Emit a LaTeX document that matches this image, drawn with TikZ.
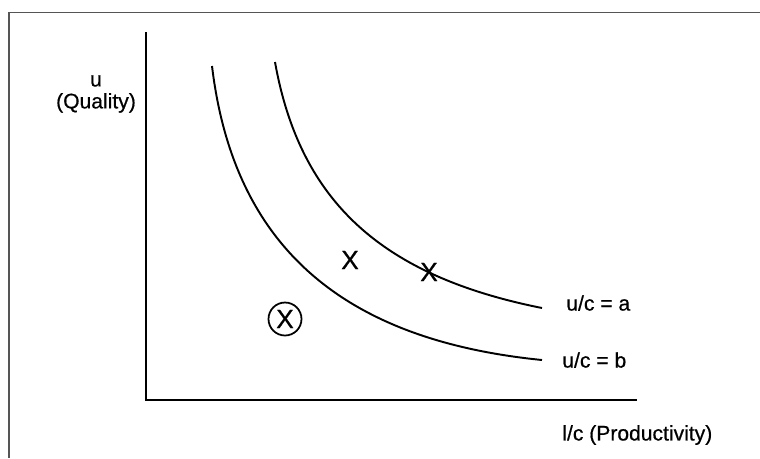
\documentclass[tikz,border=0pt]{standalone}
\usepackage{fontspec}
\setmainfont{Liberation Sans}[FakeBold=0.6]
\usetikzlibrary{positioning}
\definecolor{FrameGrey}{RGB}{85,85,85}

\begin{document}
\begin{tikzpicture}[
  x=0.02cm, y=-0.02cm,
  axis/.style={line width=1.3pt, black},
  curve/.style={line width=1.1pt, black},
  label/.style={font=\fontsize{12}{12.5}\selectfont, align=center, inner sep=0pt},
  cross/.style={font=\fontsize{15}{15}\selectfont, inner sep=0pt},
  ring/.style={circle, draw, line width=1pt, minimum size=0.66cm, inner sep=0pt}
]

  \useasboundingbox (0,0) rectangle (760,458);
  \draw[FrameGrey, line width=1.1pt] (9,458) -- (9,12.5) -- (760,12.5);

  % axes
  \coordinate (top)    at (146,32);
  \coordinate (origin) at (146,400);
  \coordinate (right)  at (637,400);
  \draw[axis] (top) -- (origin) -- (right);

  % indifference curves
  \coordinate (Astart) at (275,62);
  \coordinate (Aend)   at (542,308);
  \coordinate (Bstart) at (212,66);
  \coordinate (Bend)   at (542,360);
  \draw[curve] (Astart) .. controls (300,202) and (382,276) .. (Aend);
  \draw[curve] (Bstart) .. controls (233.6,246) and (342,340) .. (Bend);

  \node[label] (yname) at (96,94) {u\\(Quality)};
  \node[label, anchor=west] (aname) at (566,303) {u/c = a};
  \node[label, anchor=west] (bname) at (562,360) {u/c = b};
  \node[label, anchor=west] (xname) at (562,435) {l/c (Productivity)};

  \node[cross] (inside) at (350,260) {X};
  \node[cross] (onA)    at (429,272) {X};
  \node[cross] (below)  at (285,319) {X};
  \node[ring] (circ) at (below) {};

\end{tikzpicture}
\end{document}
